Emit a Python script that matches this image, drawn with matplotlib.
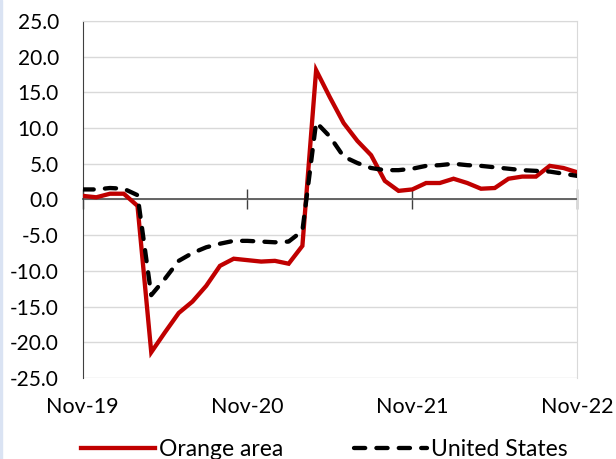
import matplotlib
matplotlib.use('Agg')
import matplotlib.pyplot as plt
import matplotlib.patches as mpatches
import pandas as pd

plt.rcParams['font.family'] = ['Lato', 'DejaVu Sans']
plt.rcParams['axes.unicode_minus'] = False

# monthly series, Nov-19 .. Nov-22
months = pd.date_range('2019-11-01', '2022-11-01', freq='MS')
orange_area = [0.5, 0.3, 0.8, 0.8, -0.9, -21.4, -18.6, -15.9, -14.3, -12.1,
               -9.3, -8.3, -8.5, -8.7, -8.6, -9.0, -6.5, 18.1, 14.3, 10.7,
               8.2, 6.2, 2.6, 1.2, 1.4, 2.3, 2.3, 2.9, 2.3, 1.5,
               1.6, 2.9, 3.2, 3.2, 4.7, 4.4, 3.8]
united_states = [1.4, 1.4, 1.6, 1.5, 0.6, -13.4, -11.1, -8.6, -7.5, -6.7,
                 -6.2, -5.8, -5.8, -5.9, -6.0, -5.9, -4.4, 10.8, 8.8, 6.0,
                 5.1, 4.4, 4.1, 4.1, 4.3, 4.7, 4.8, 5.0, 4.8, 4.7,
                 4.5, 4.3, 4.1, 4.0, 3.9, 3.6, 3.3]
tick_idx = [0, 12, 24, 36]
tick_labels = [months[i].strftime('%b-%y') for i in tick_idx]
y_ticks = [-25, -20, -15, -10, -5, 0, 5, 10, 15, 20, 25]

x = list(range(len(months)))

fig = plt.figure(figsize=(6.16, 4.59), dpi=100)
ax = fig.add_axes([0.134, 0.1765, 0.803, 0.778])

# thin blue strip on the left edge of the picture
fig.patches.append(mpatches.Rectangle((0, 0), 0.004, 1, transform=fig.transFigure,
                                      color='#DAE3F3', zorder=0))

ax.plot(x, orange_area, color='#C00000', lw=3.1, solid_joinstyle='miter',
        label='Orange area', zorder=3)
ax.plot(x, united_states, color='black', lw=3.1, dashes=(2.6, 2.6),
        dash_capstyle='round', label='United States', zorder=4)

ax.set_xlim(0, 36)
ax.set_ylim(-25, 25)
ax.set_yticks(y_ticks)
ax.set_yticklabels(['%.1f' % v for v in y_ticks])
ax.grid(axis='y', color='#D9D9D9', lw=1.0)
ax.set_axisbelow(True)

for s in ['top', 'right']:
    ax.spines[s].set_color('#D9D9D9')
ax.spines['left'].set_color('#404040')
ax.spines['bottom'].set_position(('data', 0))
ax.spines['bottom'].set_color('#595959')
ax.spines['bottom'].set_linewidth(1.3)
ax.spines['bottom'].set_zorder(2)

ax.set_xticks(tick_idx)
ax.set_xticklabels([])
ax.tick_params(axis='x', direction='inout', length=14, width=1.0, color='#404040')
ax.tick_params(axis='y', length=0, pad=17, labelsize=15)

sec = ax.secondary_xaxis(0.0)
sec.set_xticks(tick_idx)
sec.set_xticklabels(tick_labels)
sec.tick_params(length=0, pad=14, labelsize=15.5)
sec.spines['bottom'].set_visible(False)

fig.legend(loc='center', bbox_to_anchor=(0.527, 0.02), ncol=2, frameon=False,
           fontsize=16.5, handlelength=3.2, handletextpad=0.17, columnspacing=3.1)

fig.savefig('out.png', dpi=100)
